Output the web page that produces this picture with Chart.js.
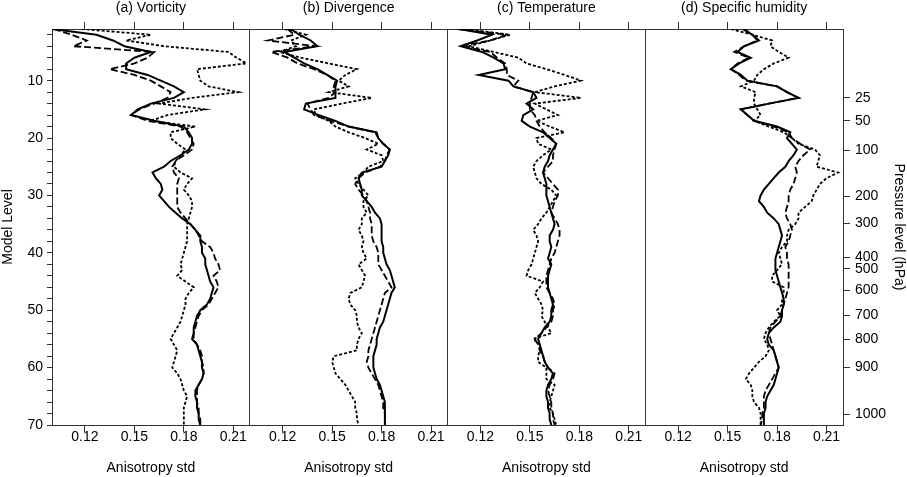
<!DOCTYPE html>
<html>
<head>
<meta charset="utf-8">
<script src="https://cdn.jsdelivr.net/npm/chart.js@4.4.1/dist/chart.umd.min.js"></script>
<style>
  html, body { margin: 0; padding: 0; background: #fff; }
  #wrap { width: 907px; height: 477px; }
</style>
</head>
<body>
<div id="wrap"><canvas id="mychart" width="907" height="477"></canvas></div>
<script>
// model levels 1..70 (top of atmosphere to surface)
const levels = Array.from({ length: 70 }, (_, i) => i + 1);

const panelTitles = ["(a) Vorticity", "(b) Divergence", "(c) Temperature", "(d) Specific humidity"];
const xTicks = [0.12, 0.15, 0.18, 0.21];
const levelTicks = Array.from({ length: 35 }, (_, i) => (i + 1) * 2);
const pressureLabels = ["25", "50", "100", "200", "300", "400", "500", "600", "700", "800", "900", "1000"];
const pressureLevels = [13.0, 17.0, 22.1, 30.1, 34.9, 40.8, 42.8, 46.5, 50.9, 55.1, 60.0, 68.1];

// (a) vorticity
const vortSolid = [
  0.100, 0.127, 0.137, 0.144, 0.160, 0.150, 0.145, 0.145, 0.158, 0.166,
  0.174, 0.180, 0.174, 0.160, 0.152, 0.148, 0.162, 0.180, 0.183, 0.185,
  0.185, 0.183, 0.178, 0.172, 0.168, 0.161, 0.163, 0.166, 0.167, 0.165,
  0.168, 0.171, 0.175, 0.179, 0.184, 0.187, 0.190, 0.190, 0.191, 0.191,
  0.193, 0.193, 0.194, 0.195, 0.196, 0.198, 0.197, 0.196, 0.194, 0.190,
  0.188, 0.187, 0.186, 0.186, 0.185, 0.188, 0.189, 0.190, 0.191, 0.191,
  0.192, 0.191, 0.189, 0.187, 0.187, 0.188, 0.188, 0.189, 0.189, 0.190,
];
const vortDashed = [
  0.101, 0.112, 0.121, 0.113, 0.162, 0.158, 0.150, 0.135, 0.150, 0.160,
  0.166, 0.172, 0.170, 0.162, 0.153, 0.148, 0.158, 0.178, 0.182, 0.184,
  0.186, 0.185, 0.180, 0.175, 0.173, 0.174, 0.177, 0.176, 0.176, 0.176,
  0.176, 0.176, 0.178, 0.181, 0.184, 0.187, 0.189, 0.191, 0.196, 0.198,
  0.199, 0.201, 0.202, 0.198, 0.200, 0.201, 0.199, 0.197, 0.195, 0.191,
  0.189, 0.188, 0.187, 0.186, 0.186, 0.188, 0.190, 0.191, 0.191, 0.192,
  0.192, 0.191, 0.189, 0.188, 0.188, 0.188, 0.189, 0.189, 0.190, 0.190,
];
const vortDotted = [
  0.118, 0.160, 0.145, 0.168, 0.207, 0.212, 0.218, 0.188, 0.189, 0.190,
  0.195, 0.213, 0.185, 0.165, 0.193, 0.170, 0.160, 0.187, 0.172, 0.172,
  0.176, 0.181, 0.178, 0.175, 0.174, 0.178, 0.185, 0.182, 0.180, 0.183,
  0.185, 0.185, 0.184, 0.183, 0.182, 0.182, 0.182, 0.182, 0.181, 0.180,
  0.179, 0.178, 0.179, 0.176, 0.181, 0.186, 0.183, 0.181, 0.181, 0.180,
  0.179, 0.178, 0.176, 0.174, 0.172, 0.174, 0.176, 0.175, 0.174, 0.173,
  0.176, 0.178, 0.179, 0.180, 0.182, 0.181, 0.180, 0.180, 0.180, 0.180,
];

// (b) divergence
const divSolid = [
  0.125, 0.130, 0.137, 0.141, 0.121, 0.127, 0.133, 0.141, 0.147, 0.153,
  0.152, 0.152, 0.152, 0.134, 0.133, 0.142, 0.152, 0.160, 0.177, 0.178,
  0.181, 0.185, 0.184, 0.182, 0.180, 0.168, 0.166, 0.167, 0.168, 0.168,
  0.171, 0.174, 0.176, 0.179, 0.180, 0.180, 0.180, 0.180, 0.181, 0.181,
  0.182, 0.183, 0.185, 0.186, 0.187, 0.188, 0.186, 0.185, 0.184, 0.183,
  0.182, 0.181, 0.179, 0.178, 0.177, 0.177, 0.176, 0.175, 0.175, 0.175,
  0.176, 0.177, 0.179, 0.180, 0.181, 0.182, 0.182, 0.182, 0.182, 0.182,
];
const divDashed = [
  0.123, 0.127, 0.111, 0.140, 0.113, 0.123, 0.129, 0.139, 0.147, 0.152,
  0.151, 0.152, 0.148, 0.135, 0.137, 0.139, 0.149, 0.160, 0.176, 0.178,
  0.181, 0.185, 0.183, 0.182, 0.179, 0.170, 0.166, 0.164, 0.166, 0.169,
  0.171, 0.172, 0.173, 0.173, 0.174, 0.174, 0.174, 0.175, 0.177, 0.178,
  0.178, 0.178, 0.180, 0.182, 0.184, 0.186, 0.182, 0.181, 0.180, 0.179,
  0.178, 0.177, 0.176, 0.175, 0.174, 0.173, 0.172, 0.172, 0.171, 0.172,
  0.174, 0.176, 0.178, 0.179, 0.180, 0.181, 0.181, 0.182, 0.182, 0.182,
];
const divDotted = [
  0.121, 0.134, 0.125, 0.128, 0.118, 0.131, 0.148, 0.165, 0.158, 0.154,
  0.160, 0.148, 0.174, 0.156, 0.139, 0.140, 0.148, 0.152, 0.160, 0.170,
  0.178, 0.171, 0.180, 0.181, 0.172, 0.169, 0.164, 0.166, 0.169, 0.172,
  0.169, 0.169, 0.171, 0.168, 0.168, 0.166, 0.168, 0.169, 0.168, 0.169,
  0.171, 0.166, 0.168, 0.170, 0.169, 0.168, 0.161, 0.160, 0.161, 0.164,
  0.165, 0.165, 0.166, 0.168, 0.166, 0.165, 0.165, 0.151, 0.150, 0.151,
  0.152, 0.155, 0.158, 0.160, 0.162, 0.164, 0.164, 0.165, 0.165, 0.166,
];

// (c) temperature
const tempSolid = [
  0.107, 0.127, 0.118, 0.108, 0.121, 0.128, 0.134, 0.135, 0.119, 0.137,
  0.140, 0.152, 0.154, 0.148, 0.152, 0.146, 0.145, 0.150, 0.158, 0.162,
  0.166, 0.164, 0.162, 0.161, 0.159, 0.158, 0.159, 0.160, 0.160, 0.160,
  0.161, 0.162, 0.163, 0.164, 0.165, 0.164, 0.162, 0.162, 0.163, 0.162,
  0.161, 0.163, 0.162, 0.161, 0.161, 0.161, 0.162, 0.163, 0.164, 0.163,
  0.163, 0.162, 0.159, 0.157, 0.155, 0.156, 0.157, 0.158, 0.159, 0.161,
  0.164, 0.163, 0.161, 0.160, 0.160, 0.161, 0.161, 0.162, 0.162, 0.163,
];
const tempDashed = [
  0.106, 0.136, 0.126, 0.108, 0.126, 0.130, 0.135, 0.136, 0.136, 0.143,
  0.140, 0.152, 0.151, 0.150, 0.150, 0.153, 0.154, 0.156, 0.159, 0.163,
  0.166, 0.165, 0.164, 0.164, 0.161, 0.158, 0.161, 0.164, 0.167, 0.167,
  0.165, 0.164, 0.163, 0.165, 0.167, 0.168, 0.168, 0.167, 0.166, 0.165,
  0.163, 0.162, 0.161, 0.160, 0.160, 0.160, 0.162, 0.164, 0.165, 0.164,
  0.164, 0.163, 0.160, 0.157, 0.153, 0.155, 0.156, 0.158, 0.159, 0.161,
  0.165, 0.164, 0.162, 0.161, 0.162, 0.163, 0.163, 0.164, 0.164, 0.165,
];
const tempDotted = [
  0.111, 0.138, 0.126, 0.113, 0.128, 0.143, 0.148, 0.160, 0.171, 0.181,
  0.165, 0.153, 0.181, 0.153, 0.160, 0.167, 0.154, 0.162, 0.171, 0.154,
  0.155, 0.163, 0.158, 0.154, 0.152, 0.153, 0.154, 0.157, 0.163, 0.166,
  0.164, 0.162, 0.160, 0.157, 0.155, 0.152, 0.154, 0.155, 0.154, 0.153,
  0.152, 0.151, 0.149, 0.148, 0.158, 0.156, 0.153, 0.155, 0.157, 0.158,
  0.157, 0.159, 0.161, 0.163, 0.152, 0.156, 0.156, 0.155, 0.155, 0.160,
  0.160, 0.160, 0.165, 0.164, 0.163, 0.162, 0.162, 0.164, 0.165, 0.166,
];

// (d) specific humidity
const humSolid = [
  0.159, 0.165, 0.169, 0.160, 0.156, 0.164, 0.157, 0.152, 0.158, 0.162,
  0.180, 0.186, 0.193, 0.175, 0.158, 0.162, 0.166, 0.180, 0.188, 0.186,
  0.189, 0.192, 0.190, 0.187, 0.185, 0.181, 0.178, 0.175, 0.172, 0.170,
  0.169, 0.172, 0.174, 0.178, 0.181, 0.182, 0.183, 0.182, 0.181, 0.180,
  0.179, 0.179, 0.179, 0.180, 0.181, 0.182, 0.183, 0.184, 0.184, 0.183,
  0.183, 0.182, 0.178, 0.175, 0.174, 0.175, 0.178, 0.179, 0.180, 0.181,
  0.180, 0.179, 0.178, 0.176, 0.174, 0.173, 0.173, 0.172, 0.172, 0.172,
];
const humDashed = [
  0.160, 0.165, 0.168, 0.160, 0.154, 0.163, 0.156, 0.152, 0.157, 0.161,
  0.180, 0.186, 0.193, 0.175, 0.158, 0.162, 0.166, 0.178, 0.187, 0.189,
  0.194, 0.200, 0.196, 0.193, 0.191, 0.192, 0.191, 0.190, 0.188, 0.187,
  0.187, 0.186, 0.185, 0.186, 0.188, 0.189, 0.188, 0.187, 0.185, 0.186,
  0.186, 0.187, 0.187, 0.187, 0.187, 0.187, 0.186, 0.185, 0.184, 0.183,
  0.182, 0.179, 0.176, 0.175, 0.176, 0.177, 0.178, 0.179, 0.180, 0.181,
  0.179, 0.177, 0.175, 0.173, 0.172, 0.172, 0.172, 0.171, 0.171, 0.170,
];
const humDotted = [
  0.152, 0.165, 0.177, 0.176, 0.181, 0.187, 0.178, 0.172, 0.168, 0.166,
  0.158, 0.167, 0.166, 0.166, 0.168, 0.170, 0.166, 0.175, 0.184, 0.189,
  0.193, 0.203, 0.206, 0.205, 0.204, 0.217, 0.210, 0.206, 0.204, 0.202,
  0.201, 0.197, 0.193, 0.193, 0.191, 0.187, 0.186, 0.186, 0.183, 0.181,
  0.182, 0.183, 0.180, 0.177, 0.177, 0.184, 0.184, 0.183, 0.183, 0.180,
  0.182, 0.178, 0.175, 0.173, 0.172, 0.174, 0.175, 0.173, 0.169, 0.166,
  0.163, 0.161, 0.164, 0.165, 0.165, 0.166, 0.169, 0.170, 0.170, 0.170,
];

const panelSeries = [
  [vortSolid, vortDashed, vortDotted],
  [divSolid, divDashed, divDotted],
  [tempSolid, tempDashed, tempDotted],
  [humSolid, humDashed, humDotted],
];

const lineStyles = [
  { borderDash: [], borderWidth: 2 },
  { borderDash: [7, 3], borderWidth: 1.8 },
  { borderDash: [3, 2], borderWidth: 1.8 },
];

const frame = "#333";
const font = { family: "'Liberation Sans', Arial, sans-serif", size: 14 };
const clear = "rgba(0,0,0,0)";

const datasets = [];
panelSeries.forEach((series, p) => {
  series.forEach((vals, k) => {
    datasets.push({
      data: levels.map((lev, i) => ({ x: vals[i], y: lev })),
      xAxisID: "x" + p,
      yAxisID: "y",
      borderColor: "#000",
      borderDash: lineStyles[k].borderDash,
      borderWidth: lineStyles[k].borderWidth,
      pointRadius: 0,
      showLine: true,
      fill: false,
      tension: 0,
    });
  });
});

const scales = {
  y: {
    type: "linear",
    position: "left",
    reverse: true,
    min: 1,
    max: 70,
    afterBuildTicks: (s) => { s.ticks = levelTicks.map((v) => ({ value: v })); },
    afterFit: (s) => { s.width = 52; },
    ticks: {
      autoSkip: false,
      color: "#000",
      font: font,
      padding: 4,
      callback: (v) => (v % 10 === 0 ? v : ""),
    },
    grid: { drawOnChartArea: false, tickLength: 5, tickColor: frame },
    border: { color: frame, width: 1 },
    title: { display: true, text: "Model Level", color: "#000", font: font, padding: 0 },
  },
  yP: {
    type: "linear",
    axis: "y",
    position: "right",
    reverse: true,
    min: 1,
    max: 70,
    afterBuildTicks: (s) => { s.ticks = pressureLevels.map((v) => ({ value: v })); },
    afterFit: (s) => { s.width = 64; },
    ticks: {
      autoSkip: false,
      color: "#000",
      font: font,
      padding: 5,
      callback: (v, i) => pressureLabels[i],
    },
    grid: { drawOnChartArea: false, tickLength: 7, tickColor: frame },
    border: { color: frame, width: 1 },
    title: { display: true, text: "Pressure level (hPa)", color: "#000", font: font, padding: 0 },
  },
};

// bottom axes, one per panel, laid side by side
panelTitles.forEach((title, p) => {
  scales["x" + p] = {
    type: "linear",
    axis: "x",
    position: "bottom",
    stack: "bottom",
    min: 0.10,
    max: 0.22,
    afterBuildTicks: (s) => { s.ticks = [0.10].concat(xTicks).map((v) => ({ value: v })); },
    afterFit: (s) => { s.height = 52; },
    ticks: {
      autoSkip: false,
      maxRotation: 0,
      minRotation: 0,
      color: "#000",
      font: font,
      padding: -3,
      callback: (v) => (v === 0.10 ? "" : v.toFixed(2)),
    },
    grid: {
      drawOnChartArea: true,
      tickLength: 7,
      color: (c) => (c.tick && c.tick.value === 0.10 && p > 0 ? frame : clear),
      tickColor: (c) => (c.tick && c.tick.value === 0.10 ? clear : frame),
    },
    border: { color: frame, width: 1 },
    title: { display: true, text: "Anisotropy std", color: "#000", font: font, padding: 0 },
  };
});

// top axes carry the panel titles; top boxes are placed in reverse order
for (let p = panelTitles.length - 1; p >= 0; p--) {
  scales["xt" + p] = {
    type: "linear",
    axis: "x",
    position: "top",
    stack: "top",
    min: 0.10,
    max: 0.22,
    afterBuildTicks: (s) => { s.ticks = xTicks.map((v) => ({ value: v })); },
    afterFit: (s) => { s.height = 29; },
    ticks: { display: false, autoSkip: false, maxRotation: 0, minRotation: 0 },
    grid: { drawOnChartArea: false, tickLength: 7, tickColor: frame },
    border: { color: frame, width: 1 },
    title: { display: true, text: panelTitles[p], color: "#000", font: font, padding: 0 },
  };
}

const config = {
  type: "scatter",
  data: { datasets: datasets },
  options: {
    responsive: false,
    animation: false,
    layout: { padding: 0 },
    plugins: { legend: { display: false }, tooltip: { enabled: false } },
    scales: scales,
  },
};

const mychart = new Chart(document.getElementById("mychart"), config);
</script>
</body>
</html>
